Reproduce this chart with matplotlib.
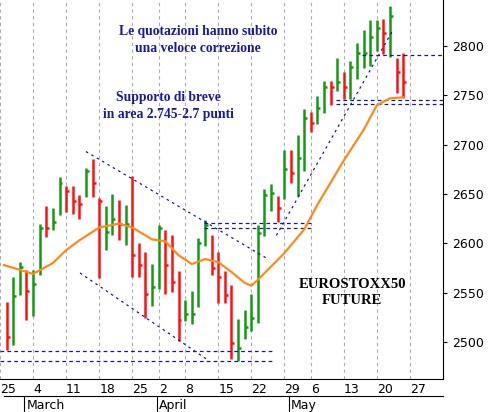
import numpy as np
import matplotlib.pyplot as plt

# trading-day index, Feb 26 2013 = 0
highs = [2541, 2566, 2581, 2573, 2573, 2620, 2638, 2636, 2667, 2658, 2658, 2649, 2676, 2685,
         2646, 2638, 2650, 2644, 2639, 2668, 2600, 2591, 2579, 2619, 2614, 2608, 2572, 2543,
         2552, 2605, 2624, 2608, 2591, 2572, 2558, 2523, 2532, 2549, 2619, 2655, 2660, 2648,
         2695, 2695, 2710, 2736, 2733, 2749, 2765, 2765, 2788, 2774, 2785, 2803, 2816, 2826,
         2826, 2827, 2841, 2788, 2793]
lows = [2492, 2497, 2548, 2522, 2526, 2568, 2606, 2614, 2629, 2632, 2630, 2625, 2647, 2647,
        2565, 2593, 2608, 2603, 2598, 2566, 2566, 2524, 2536, 2554, 2549, 2551, 2501, 2521,
        2518, 2535, 2597, 2568, 2540, 2540, 2483, 2481, 2503, 2511, 2519, 2607, 2633, 2622,
        2645, 2661, 2648, 2673, 2713, 2721, 2732, 2740, 2754, 2746, 2746, 2767, 2778, 2780,
        2795, 2792, 2789, 2752, 2747]
closes = [2505, 2547, 2576, 2552, 2559, 2616, 2616, 2622, 2661, 2653, 2643, 2640, 2673, 2661,
          2643, 2611, 2625, 2620, 2620, 2588, 2578, 2549, 2556, 2616, 2578, 2561, 2522, 2528,
          2528, 2600, 2619, 2575, 2566, 2548, 2499, 2494, 2515, 2524, 2610, 2649, 2651, 2636,
          2675, 2671, 2686, 2727, 2722, 2737, 2758, 2758, 2763, 2758, 2779, 2793, 2793, 2809,
          2818, 2813, 2830, 2774, 2764]
up = "RGGRGGRGGR" "RRGRRGGRGR" "RRGGRRRGGG" "GRRRRGGGGG" "GRGRGGRGGR" "GRGGGGGRGR" "R"

ma_x = [-0.4, 4, 7, 9, 11, 14, 17, 19, 22, 24, 26, 28, 30, 32, 34, 36, 37, 38, 42, 45, 47, 51, 54, 56, 58, 60]
ma_y = [2578, 2569, 2580, 2593, 2603, 2616, 2620, 2616, 2604, 2602, 2588, 2579, 2584, 2581, 2571,
        2560, 2557, 2563, 2590, 2614, 2639, 2684, 2715, 2740, 2747, 2748]

day_pos = [-1, 4, 9, 14, 19, 23, 27, 32, 37, 42, 46, 51, 56, 61]
day_lbl = ["25", "4", "11", "18", "25", "2", "8", "15", "22", "29", "6", "13", "20", "27"]
month_pos = [3, 23, 43]
month_lbl = ["March", "April", "May"]

fig = plt.figure(figsize=(4.94, 4.12), dpi=100)
ax = fig.add_axes([0, 33 / 412, 443 / 494, 379 / 412])
ax.set_xlim(-0.4, 66)
ax.set_ylim(2462.5, 2846.6)

for p in day_pos:
    ax.axvline(p, color="#aaaaaa", ls=(0, (3, 3)), lw=0.8, zorder=0)

for i, (h, l, c) in enumerate(zip(highs, lows, closes)):
    col = "#139a13" if up[i] == "G" else "#ff1010"
    ax.plot([i, i], [l, h], color=col, lw=1.8, solid_capstyle="butt")
    ax.plot([i, i + 0.45], [c, c], color=col, lw=1.8, solid_capstyle="butt")

ax.plot(ma_x, ma_y, color="#ff8a1c", lw=1.6, zorder=3)

navy = "#1a1a8c"
dash = dict(color=navy, ls=(0, (3, 2.5)), lw=0.9)
for y0, x0, x1 in [(2491, -1, 40.4), (2481, -1, 40.4), (2621, 29.9, 46.5), (2616, 29.9, 46.5),
                   (2791, 53.8, 66), (2745, 49.8, 66), (2741, 49.8, 66)]:
    ax.plot([x0, x1], [y0, y0], **dash)
ax.plot([12.0, 39.3], [2693, 2585], color=navy, ls=(0, (2, 3)), lw=0.9)
ax.plot([11.1, 30.6], [2570, 2481], color=navy, ls=(0, (2, 3)), lw=0.9)
ax.plot([40.8, 58.5], [2608, 2817], color=navy, ls=(0, (2, 3)), lw=0.9)

serif = ["Liberation Serif", "DejaVu Serif"]
ax.text(198 / 443, 1 - 40 / 379, "Le quotazioni hanno subito\nuna veloce correzione", transform=ax.transAxes,
        ha="center", va="center", color="#1a1a9c", fontsize=9.8, fontweight="bold", family=serif,
        linespacing=1.35)
ax.text(168 / 443, 1 - 106 / 379, "Supporto di breve\nin area 2.745-2.7 punti", transform=ax.transAxes,
        ha="center", va="center", color="#1a1a9c", fontsize=9.8, fontweight="bold", family=serif,
        linespacing=1.35)
ax.text(352 / 443, 1 - 292 / 379, "EUROSTOXX50\nFUTURE", transform=ax.transAxes,
        ha="center", va="center", color="black", fontsize=10.5, fontweight="bold", family=serif,
        linespacing=1.3)

ax.yaxis.tick_right()
ax.set_yticks(range(2500, 2801, 50))
ax.tick_params(axis="y", labelsize=9, length=3)
ax.set_xticks(day_pos)
ax.set_xticklabels(day_lbl, fontsize=9)
ax.tick_params(axis="x", length=0, pad=3)
for t in ax.get_xticklabels():
    t.set_ha("left")
for s in ["top", "left"]:
    ax.spines[s].set_visible(False)

# month row
ax.plot([-0.4, 66], [2462.5 - 17.5, 2462.5 - 17.5], color="black", lw=0.8, clip_on=False)
for p, m in zip(month_pos, month_lbl):
    ax.plot([p - 0.3, p - 0.3], [2462.5 - 17.5, 2462.5 - 36], color="black", lw=0.8, clip_on=False)
    ax.text(p, 2462.5 - 27, m, fontsize=9, va="center", ha="left")

fig.savefig("out.png", dpi=100)
